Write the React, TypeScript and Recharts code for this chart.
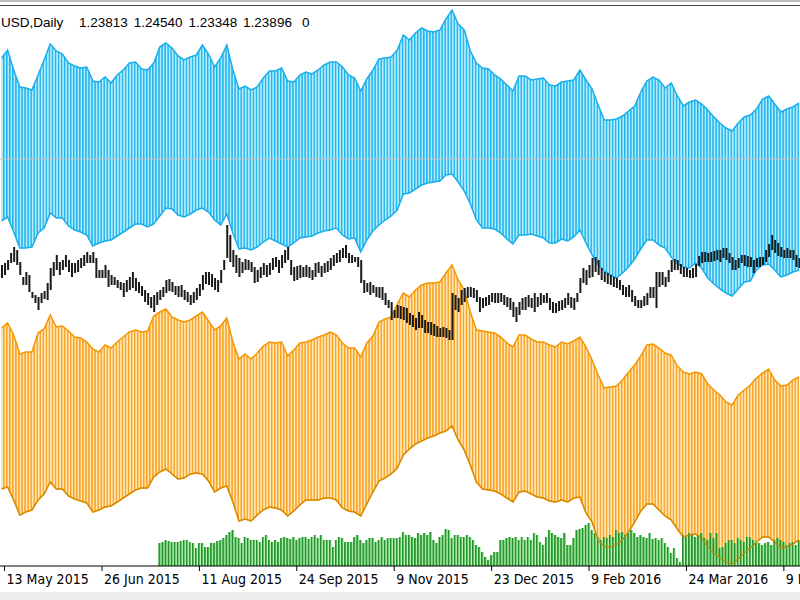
import React from "react";
import {
  ComposedChart,
  Area,
  Bar,
  Line,
  XAxis,
  YAxis,
  ReferenceLine,
} from "recharts";

// header text
const symbolText = "USD,Daily";
const quoteValues = ["1.23813", "1.24540", "1.23348", "1.23896"];
const tickVolume = "0";

// date axis
const dateLabels = [
  "13 May 2015",
  "26 Jun 2015",
  "11 Aug 2015",
  "24 Sep 2015",
  "9 Nov 2015",
  "23 Dec 2015",
  "9 Feb 2016",
  "24 Mar 2016",
  "9 May 2016",
];
const dateTickBars = [1, 33, 65, 97, 129, 161, 193, 225, 257];

// envelope bands, one point every second bar
const blueUpper = [
  542, 550, 530, 513, 512, 510, 525, 540, 556, 549, 546, 537, 534, 532, 533, 519, 518, 523, 517, 525,
  530, 537, 538, 531, 530, 537, 553, 557, 552, 544, 540, 543, 545, 555, 546, 533, 542, 555, 530, 511,
  514, 510, 513, 522, 529, 529, 532, 519, 518, 525, 528, 526, 530, 535, 538, 538, 533, 525, 522, 509,
  521, 530, 541, 542, 543, 550, 565, 560, 567, 572, 569, 568, 570, 581, 590, 576, 570, 549, 537, 532,
  531, 525, 521, 515, 509, 524, 524, 520, 521, 522, 515, 514, 518, 519, 520, 530, 520, 511, 495, 480,
  480, 481, 484, 489, 494, 508, 519, 523, 520, 512, 517, 504, 494, 498, 500, 496, 490, 483, 477, 472,
  469, 477, 483, 485, 491, 501, 504, 496, 488, 491, 493, 497,
];
const blueLower = [
  379, 383, 368, 352, 352, 353, 367, 372, 387, 382, 382, 374, 370, 368, 365, 354, 357, 359, 360, 364,
  368, 372, 376, 376, 373, 376, 384, 392, 391, 385, 383, 386, 390, 392, 388, 380, 375, 386, 367, 351,
  352, 350, 353, 358, 362, 359, 356, 353, 357, 362, 363, 364, 367, 369, 370, 372, 365, 361, 362, 348,
  360, 369, 375, 380, 384, 390, 406, 407, 411, 415, 417, 418, 419, 425, 426, 418, 409, 396, 380, 372,
  372, 371, 367, 361, 356, 365, 365, 366, 364, 362, 357, 357, 361, 359, 363, 370, 357, 345, 335, 329,
  325, 322, 327, 333, 341, 351, 360, 360, 355, 352, 343, 336, 333, 332, 337, 332, 322, 316, 311, 307,
  304, 311, 318, 319, 330, 335, 336, 330, 323, 325, 328, 330,
];
const orangeUpper = [
  272, 277, 265, 246, 248, 248, 267, 271, 285, 273, 274, 269, 263, 262, 258, 251, 248, 255, 252, 258,
  263, 268, 270, 268, 269, 284, 288, 291, 283, 280, 278, 280, 284, 288, 279, 270, 274, 282, 258, 241,
  246, 241, 247, 254, 258, 257, 258, 244, 250, 257, 258, 260, 263, 265, 268, 265, 257, 252, 252, 243,
  257, 264, 278, 281, 283, 296, 307, 303, 310, 315, 317, 317, 318, 327, 335, 320, 310, 288, 270, 269,
  268, 267, 263, 257, 253, 265, 265, 261, 258, 258, 255, 253, 258, 256, 259, 263, 253, 240, 225, 212,
  213, 214, 220, 228, 235, 244, 255, 256, 252, 247, 245, 234, 228, 226, 228, 226, 216, 210, 205, 198,
  195, 205, 210, 215, 222, 227, 231, 220, 214, 215, 220, 223,
];
const orangeLower = [
  111, 113, 100, 85, 88, 90, 100, 106, 118, 111, 111, 104, 101, 99, 97, 88, 90, 93, 94, 98,
  102, 106, 110, 112, 112, 123, 128, 131, 126, 121, 122, 126, 127, 126, 119, 108, 112, 114, 98, 79,
  81, 79, 85, 90, 93, 92, 90, 84, 89, 95, 100, 100, 100, 102, 102, 100, 92, 89, 88, 84,
  96, 108, 119, 122, 126, 132, 145, 151, 156, 159, 162, 164, 167, 169, 174, 160, 150, 135, 118, 111,
  110, 109, 106, 102, 98, 108, 109, 106, 103, 102, 99, 98, 100, 98, 102, 103, 87, 78, 60, 53,
  53, 55, 60, 68, 78, 89, 96, 96, 90, 84, 80, 71, 63, 65, 66, 62, 53, 47, 42, 38,
  36, 41, 47, 52, 58, 63, 63, 58, 52, 53, 56, 60,
];

// daily price bars
const barHigh = [
  335, 337, 340, 347, 353, 350, 338, 323, 328, 325, 308, 305, 303, 307, 309, 317, 332, 338, 345, 338,
  340, 345, 340, 337, 337, 340, 342, 345, 348, 345, 348, 342, 330, 330, 335, 330, 325, 323, 320, 318,
  317, 320, 323, 328, 322, 318, 314, 310, 307, 303, 305, 308, 310, 313, 320, 321, 318, 314, 314, 315,
  310, 308, 305, 308, 312, 316, 325, 328, 328, 326, 322, 320, 330, 340, 375, 365, 350, 345, 342, 338,
  341, 340, 338, 333, 330, 333, 337, 335, 337, 342, 343, 340, 345, 350, 353, 340, 333, 334, 335, 333,
  335, 333, 330, 337, 338, 334, 337, 339, 342, 345, 347, 350, 352, 355, 347, 345, 343, 343, 340, 320,
  317, 318, 315, 313, 313, 313, 307, 300, 298, 290, 295, 294, 293, 292, 287, 285, 282, 288, 285, 280,
  278, 278, 276, 274, 272, 273, 272, 270, 307, 305, 302, 310, 312, 313, 313, 312, 310, 303, 302, 303,
  305, 307, 307, 307, 307, 305, 303, 302, 298, 293, 298, 302, 303, 305, 302, 307, 303, 307, 305, 307,
  302, 298, 297, 299, 300, 302, 307, 303, 302, 307, 322, 332, 330, 335, 342, 343, 340, 332, 328, 327,
  325, 323, 322, 320, 315, 313, 315, 310, 304, 300, 300, 304, 307, 313, 313, 328, 328, 328, 323, 330,
  340, 341, 340, 336, 333, 332, 330, 332, 336, 344, 348, 348, 347, 348, 349, 350, 350, 352, 352, 347,
  343, 340, 342, 345, 345, 344, 343, 340, 342, 343, 343, 350, 356, 365, 360, 357, 353, 350, 352, 350,
  350, 345, 342,
];
const barLow = [
  322, 325, 330, 337, 338, 335, 325, 315, 315, 308, 302, 297, 290, 297, 301, 300, 310, 324, 330, 325,
  330, 333, 328, 323, 327, 328, 332, 334, 337, 337, 337, 322, 322, 322, 322, 313, 315, 315, 312, 310,
  303, 308, 310, 312, 309, 307, 304, 298, 295, 292, 288, 295, 300, 303, 307, 309, 308, 305, 303, 303,
  300, 298, 295, 297, 300, 304, 310, 316, 315, 313, 310, 308, 317, 330, 342, 338, 333, 327, 323, 327,
  330, 330, 328, 317, 318, 322, 325, 323, 325, 330, 333, 327, 332, 337, 340, 325, 319, 320, 322, 323,
  323, 322, 320, 323, 327, 323, 327, 328, 330, 334, 337, 338, 342, 342, 337, 337, 338, 333, 317, 307,
  308, 305, 307, 303, 302, 300, 295, 292, 280, 282, 282, 281, 280, 277, 275, 273, 270, 272, 272, 267,
  267, 265, 264, 263, 263, 263, 262, 260, 260, 290, 288, 295, 298, 302, 303, 302, 298, 288, 292, 294,
  295, 298, 297, 297, 298, 295, 293, 290, 283, 278, 285, 290, 290, 293, 292, 288, 293, 295, 297, 297,
  290, 287, 287, 289, 290, 292, 295, 292, 290, 298, 307, 317, 315, 322, 323, 328, 325, 320, 318, 316,
  315, 313, 312, 310, 305, 303, 303, 298, 294, 292, 292, 294, 295, 302, 302, 292, 313, 315, 313, 318,
  328, 330, 330, 326, 323, 323, 322, 322, 323, 334, 337, 338, 338, 338, 339, 340, 338, 342, 340, 337,
  330, 330, 332, 337, 334, 333, 333, 327, 333, 333, 335, 338, 343, 350, 347, 344, 343, 342, 342, 342,
  340, 333, 332,
];

// tick volume (thousands), first bar with volume data
const firstVolumeBar = 52;
const volumes = [
  23, 24, 26, 25, 24, 24, 24, 25, 26, 26, 24, 23, 18, 23, 23, 19, 19, 23, 23, 25,
  26, 28, 31, 34, 36, 29, 28, 23, 29, 28, 26, 26, 26, 24, 29, 31, 26, 24, 26, 24,
  28, 29, 28, 27, 29, 26, 28, 29, 29, 27, 29, 31, 28, 31, 26, 26, 26, 19, 26, 29,
  28, 24, 24, 24, 29, 31, 26, 23, 26, 28, 28, 24, 26, 29, 26, 28, 28, 28, 28, 29,
  34, 31, 31, 29, 28, 33, 31, 33, 31, 34, 26, 23, 29, 31, 37, 36, 28, 31, 31, 29,
  29, 31, 29, 26, 21, 19, 14, 9, 6, 11, 14, 14, 26, 26, 28, 29, 28, 29, 26, 29,
  26, 29, 26, 33, 31, 24, 21, 29, 36, 33, 31, 29, 28, 33, 21, 21, 28, 36, 37, 38,
  41, 43, 36, 33, 29, 26, 29, 28, 31, 29, 36, 33, 34, 31, 33, 36, 33, 29, 31, 29,
  28, 33, 27, 28, 26, 28, 23, 19, 13, 18, 8, 4, 31, 29, 33, 31, 29, 31, 33, 28,
  26, 33, 28, 33, 18, 19, 23, 26, 26, 23, 28, 26, 24, 29, 29, 26, 24, 23, 21, 23,
  24, 21, 26, 28, 26, 24, 21, 23, 24, 21, 26,
];

const levelLine = 441;

const W = 800;
const H = 600;
const X_DOMAIN: [number, number] = [-0.5, 262.3];
const BAR_STEP = W / (X_DOMAIN[1] - X_DOMAIN[0]);

const bandRows = blueUpper.map((_, k) => ({
  bar: k * 2,
  blue: [blueLower[k], blueUpper[k]],
  orange: [orangeLower[k], orangeUpper[k]],
  orangeLow: orangeLower[k],
}));
const priceRows = barHigh.map((h, i) => ({ bar: i, range: [barLow[i], h] }));
const volumeRows = volumes.map((v, j) => ({ bar: firstVolumeBar + j, volume: v }));

const layer: React.CSSProperties = { position: "absolute", left: 0, top: 0 };
const zero = { top: 0, right: 0, bottom: 0, left: 0 };

function DateTick(props: any) {
  const { x, y, payload } = props;
  const idx = dateTickBars.indexOf(payload.value);
  return (
    <text
      x={x + 2}
      y={y + 11}
      fontFamily="'DejaVu Sans Condensed', 'DejaVu Sans', sans-serif"
      fontSize={14}
      fill="#000"
    >
      {dateLabels[idx]}
    </text>
  );
}

export default function App() {
  return (
    <div
      style={{
        position: "absolute",
        left: 0,
        top: 0,
        width: W,
        height: H,
        background: "#fff",
        overflow: "hidden",
      }}
    >
      {/* bands */}
      <div style={layer}>
        <ComposedChart width={W} height={H} data={bandRows} margin={zero}>
          <defs>
            <pattern id="blueStripe" patternUnits="userSpaceOnUse" width={BAR_STEP} height={8}>
              <rect width={BAR_STEP} height={8} fill="#b4ebfb" />
              <rect width={1.4} height={8} fill="#1db3ec" />
            </pattern>
            <pattern id="orangeStripe" patternUnits="userSpaceOnUse" width={BAR_STEP} height={8}>
              <rect width={BAR_STEP} height={8} fill="#ffe6b6" />
              <rect width={1.4} height={8} fill="#f8a220" />
            </pattern>
          </defs>
          <XAxis dataKey="bar" type="number" domain={X_DOMAIN} allowDataOverflow hide />
          <YAxis type="number" domain={[0, H]} allowDataOverflow hide />
          <Area
            dataKey="blue"
            type="linear"
            stroke="#19aeea"
            strokeWidth={1.5}
            fill="url(#blueStripe)"
            fillOpacity={1}
            dot={false}
            activeDot={false}
            isAnimationActive={false}
          />
          <ReferenceLine y={levelLine} stroke="#c2c2c2" strokeWidth={1} />
          <Area
            dataKey="orange"
            type="linear"
            stroke="#f59500"
            strokeWidth={1.5}
            fill="url(#orangeStripe)"
            fillOpacity={1}
            dot={false}
            activeDot={false}
            isAnimationActive={false}
          />
        </ComposedChart>
      </div>

      {/* price bars */}
      <div style={layer}>
        <ComposedChart width={W} height={H} data={priceRows} margin={zero}>
          <XAxis dataKey="bar" type="number" domain={X_DOMAIN} allowDataOverflow hide />
          <YAxis type="number" domain={[0, H]} allowDataOverflow hide />
          <Bar dataKey="range" barSize={2} fill="#1a1a1a" isAnimationActive={false} />
        </ComposedChart>
      </div>

      {/* volumes + time axis */}
      <div style={layer}>
        <ComposedChart
          width={W}
          height={H}
          data={volumeRows}
          margin={{ top: 366, right: 0, bottom: 0, left: 0 }}
        >
          <defs>
            <pattern id="volStripe" patternUnits="userSpaceOnUse" width={BAR_STEP} height={8}>
              <rect width={BAR_STEP} height={8} fill="#9cef9c" />
              <rect width={1.8} height={8} fill="#23922a" />
            </pattern>
          </defs>
          <XAxis
            dataKey="bar"
            type="number"
            domain={X_DOMAIN}
            allowDataOverflow
            ticks={dateTickBars}
            interval={0}
            height={34}
            tickSize={5}
            tickMargin={2}
            axisLine={{ stroke: "#000" }}
            tickLine={{ stroke: "#000" }}
            tick={<DateTick />}
          />
          <YAxis type="number" domain={[0, 200]} allowDataOverflow hide />
          <Bar dataKey="volume" barSize={BAR_STEP} fill="url(#volStripe)" isAnimationActive={false} />
        </ComposedChart>
      </div>

      {/* lower envelope edge seen through the volumes */}
      <div style={layer}>
        <ComposedChart width={W} height={H} data={bandRows} margin={zero}>
          <XAxis dataKey="bar" type="number" domain={X_DOMAIN} allowDataOverflow hide />
          <YAxis type="number" domain={[0, H]} allowDataOverflow hide />
          <Line
            dataKey="orangeLow"
            type="linear"
            stroke="#c98700"
            strokeOpacity={0.75}
            strokeWidth={1.3}
            dot={false}
            activeDot={false}
            isAnimationActive={false}
          />
        </ComposedChart>
      </div>

      {/* window frame and header */}
      <div style={{ position: "absolute", left: 0, top: 0, width: W, height: 2, background: "#bdbdbd" }} />
      <div style={{ position: "absolute", left: 0, top: 5, width: W, height: 1, background: "#444" }} />
      <div style={{ position: "absolute", left: 0, top: 592, width: W, height: 8, background: "#ececec" }} />
      <svg style={{ position: "absolute", left: 0, top: 0 }} width={W} height={40}>
        <g fontFamily="'Liberation Sans', Arial, sans-serif" fontSize={13.5} fill="#000">
          <text x={1} y={27}>{symbolText}</text>
          {quoteValues.map((q, i) => (
            <text key={q + i} x={79 + i * 54.7} y={27}>
              {q}
            </text>
          ))}
          <text x={302} y={27}>{tickVolume}</text>
        </g>
      </svg>
    </div>
  );
}
